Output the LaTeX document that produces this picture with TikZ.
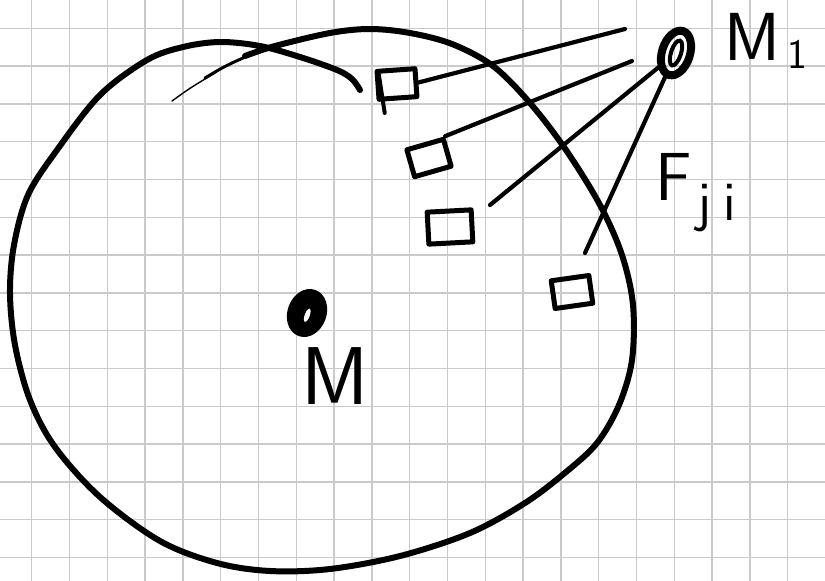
\documentclass[tikz,border=0pt]{standalone}
\usepackage{fontspec}
\usepackage{tikz}
\usetikzlibrary{shapes.geometric,calc}
\definecolor{gridgray}{RGB}{202,202,202}

\begin{document}
\begin{tikzpicture}[x=1pt, y=-1pt,
    outline/.style={line width=6pt, line cap=round, line join=round},
    elem/.style={draw, line width=5pt, line join=round, minimum width=38pt, minimum height=28pt, inner sep=0pt},
    conn/.style={line width=4.2pt, line cap=round},
    hand/.style={inner sep=0pt, font=\sffamily\fontsize{68}{68}\selectfont}]
    \useasboundingbox (0,0) rectangle (825,581);
    \fill[white] (0,0) rectangle (825,581);
    % squared paper
    \foreach \i in {0,...,20} {\draw[gridgray, line width=1.4pt] ({31.7+37.8*\i},0) -- ({31.7+37.8*\i},581);}
    \foreach \j in {0,...,14} {\draw[gridgray, line width=1.4pt] (0,{28.3+37.8*\j}) -- (825,{28.3+37.8*\j});}
    % the body
    \draw[line width=1.4pt, line cap=round] (172,101) .. controls (190,88) .. (215,73);
    \draw[line width=3pt, line cap=round] (205,78) .. controls (225,66) .. (252,54);
    \draw[outline] plot[smooth, tension=0.55] coordinates {(245,56) (275,46) (330,33) (370,29) (410,33) (452,44)
        (493,66) (530,103) (566,150) (600,205) (622,255) (633,305) (632,360) (619,405) (597,443) (566,472)
        (525,503) (470,533) (400,556) (330,569) (270,571) (217,563) (160,541) (100,497) (55,447) (30,400)
        (15,345) (10,293) (14,245) (28,195) (57,150) (100,95) (147,60) (183,47) (220,42) (260,46)
        (300,57) (337,70) (352,79) (360,90)};
    % masses
    \node[ellipse, draw, fill, line width=7pt, minimum width=32pt, minimum height=42pt, rotate=-20] (m) at (307,313) {};
    \fill[white, rotate around={-20:(m.center)}] ($(m.center)+(1,2)$) ellipse [x radius=2.5pt, y radius=7pt];
    \node[ellipse, draw, line width=8pt, minimum width=28pt, minimum height=46pt, rotate=-18] (m1) at (676,53) {};
    \draw[line width=4pt, rotate around={-18:(m1.center)}] (m1.center) ellipse [x radius=5pt, y radius=13pt];
    % mass elements
    \node[elem, rotate=4] (e1) at (397,84) {};
    \node[elem, rotate=16] (e2) at (429,158) {};
    \node[elem, rotate=3, minimum width=44pt, minimum height=32pt] (e3) at (450,227) {};
    \node[elem, rotate=8] (e4) at (572,292) {};
    \draw[line width=4pt, line cap=round] ($(e1.north west)+(4,3)$) -- ($(e1.south west)+(8,11)$);
    % forces
    \coordinate (t1) at (625,29);
    \coordinate (t2) at (632,61);
    \coordinate (c3) at (490,205);
    \coordinate (c4) at (585,253);
    \draw[conn] (e1.east) -- (t1);
    \draw[conn] (e2.north east) -- (t2);
    \draw[conn] (c3) -- (m1);
    \draw[conn] (c4) -- (m1);
    % labels
    \node[hand, font=\sffamily\fontsize{82}{82}\selectfont] (lm) at (335,376) {M};
    \node[hand, anchor=base west] (lm1) at (724,60) {M\kern8pt\raisebox{-8pt}{\fontsize{42}{42}\selectfont 1}};
    \node[hand, anchor=base west] (lf) at (655,200) {F\raisebox{-20pt}{\fontsize{56}{56}\selectfont\kern6pt j\kern12pt i}};
\end{tikzpicture}
\end{document}
